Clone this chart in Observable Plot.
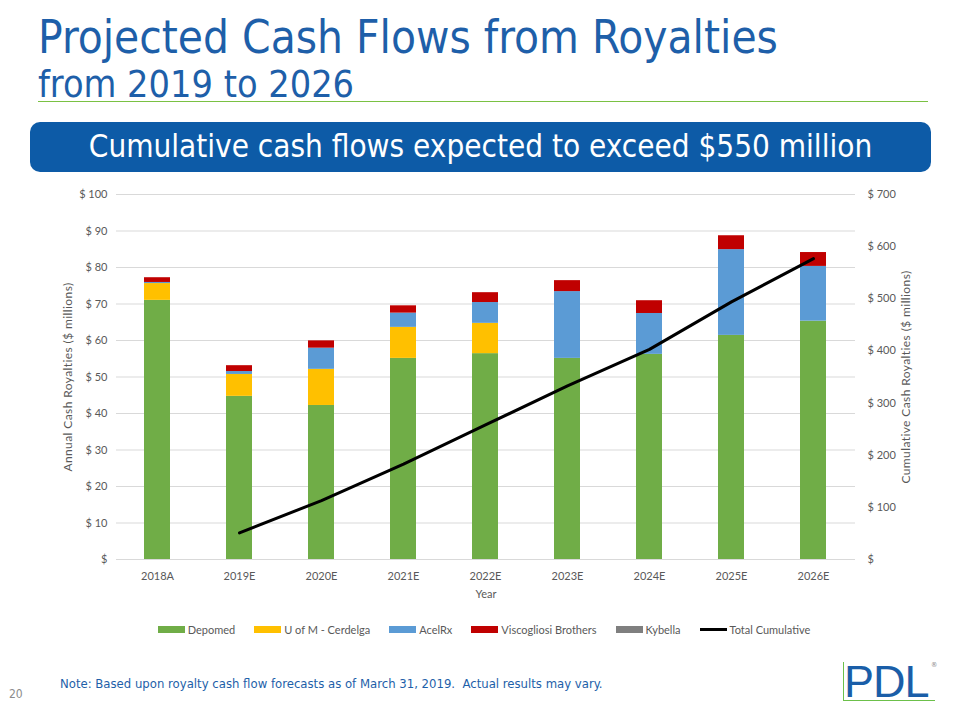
<!DOCTYPE html>
<html><head><meta charset="utf-8">
<script src="https://cdn.jsdelivr.net/npm/d3@7"></script>
<script src="https://cdn.jsdelivr.net/npm/@observablehq/plot@0.6"></script>
<style>
body{margin:0;width:960px;height:720px;position:relative;background:#fff;overflow:hidden;font-family:"Liberation Sans Narrow","Arial Narrow","DejaVu Sans Condensed",sans-serif;}
.abs{position:absolute;white-space:nowrap;line-height:1}
#title{left:38px;top:15px;font-size:45.5px;color:#1e5fa9}
#subtitle{left:38px;top:66px;font-size:37.5px;color:#1e5fa9}
#rule{left:38px;top:101px;width:890px;height:1px;background:#7ac143}
#banner{left:30px;top:122px;width:901px;height:50px;background:#0d5ba7;border-radius:10px;color:#fff;font-size:31.2px;display:flex;align-items:center;justify-content:center}
#chart{left:0;top:180px}
#legend{left:0;top:624px;width:968px;display:flex;justify-content:center;gap:19px;font-family:Lato,sans-serif;font-size:11px;color:#595959}
.item{display:flex;align-items:center;gap:3px}
.sw{width:27px;height:7px;display:inline-block}
.ln{width:27px;height:3px;background:#000;display:inline-block}
#note{left:60px;top:677px;font-size:13px;color:#1e5fa9}
#page{left:9px;top:688px;font-size:12px;color:#8c8c8c}
#pdl{left:844px;top:659px;font-family:"Liberation Sans",Arial,sans-serif;font-size:45px;color:#1a5ea8;letter-spacing:-1px}
#pdlv{left:843px;top:662px;width:1px;height:38px;background:#6cc04a}
#pdlh{left:843px;top:700px;width:92px;height:1px;background:#6cc04a}
#reg{left:931px;top:662px;font-size:7px;color:#888}
</style></head>
<body>
<div class="abs" id="title">Projected Cash Flows from Royalties</div>
<div class="abs" id="subtitle">from 2019 to 2026</div>
<div class="abs" id="rule"></div>
<div class="abs" id="banner">Cumulative cash flows expected to exceed $550 million</div>
<div class="abs" id="chart"></div>
<div class="abs" id="legend"></div>
<div class="abs" id="note">Note: Based upon royalty cash flow forecasts as of March 31, 2019.&nbsp; Actual results may vary.</div>
<div class="abs" id="page">20</div>
<div class="abs" id="pdlv"></div>
<div class="abs" id="pdlh"></div>
<div class="abs" id="pdl">PDL</div>
<div class="abs" id="reg">®</div>
<script>
const years = ["2018A","2019E","2020E","2021E","2022E","2023E","2024E","2025E","2026E"];
const depomed = [71.0, 44.7, 42.2, 55.1, 56.4, 55.1, 56.2, 61.4, 65.3];
const uofm = [4.6, 6.0, 9.9, 8.5, 8.3, 0, 0, 0, 0];
const acelrx = [0.3, 0.8, 5.8, 3.9, 5.7, 18.3, 11.2, 23.5, 15.0];
const visc = [1.3, 1.6, 2.0, 2.0, 2.7, 3.0, 3.5, 3.8, 3.8];
const kybella = [0, 0, 0, 0, 0, 0, 0, 0, 0];
const cumulative = [null, 51, 113, 183, 258, 333, 403, 494, 577];
const seriesNames = ["Depomed","U of M - Cerdelga","AcelRx","Viscogliosi Brothers","Kybella"];
const seriesColors = ["#70ad47","#ffc000","#5b9bd5","#c00000","#7f7f7f"];
const leftTicks = [0,10,20,30,40,50,60,70,80,90,100];
const rightTicks = [0,100,200,300,400,500,600,700];
const rightMax = 700, leftMax = 100;
const leftTitle = "Annual Cash Royalties ($ millions)";
const rightTitle = "Cumulative Cash Royalties ($ millions)";

const seriesValues = [depomed, uofm, acelrx, visc, kybella];
const rows = [];
seriesValues.forEach((vals, s) => vals.forEach((v, i) => rows.push({year: years[i], series: seriesNames[s], value: v})));
const lineRows = years.map((y, i) => ({year: y, cum: cumulative[i]})).filter(d => d.cum != null);
const ratio = leftMax / rightMax;
const money = d => d === 0 ? "$" : "$ " + d;

const plot = Plot.plot({
  width: 960, height: 430,
  marginLeft: 116, marginRight: 105, marginTop: 14, marginBottom: 51,
  style: {fontFamily: "Lato, sans-serif", fontSize: "11px", color: "#595959", background: "transparent"},
  x: {domain: years, paddingInner: 0.68, paddingOuter: 0.34, label: null},
  y: {domain: [0, leftMax], label: null},
  color: {domain: seriesNames, range: seriesColors},
  marks: [
    Plot.gridY(leftTicks, {stroke: "#d9d9d9", strokeOpacity: 1}),
    Plot.barY(rows, {x: "year", y: "value", fill: "series"}),
    Plot.line(lineRows, {x: "year", y: d => d.cum * ratio, stroke: "#000", strokeWidth: 3}),
    Plot.axisX({tickSize: 0, tickPadding: 13, fill: "#595959"}),
    Plot.axisY({ticks: leftTicks, tickSize: 0, tickPadding: 9, tickFormat: money, label: null, fill: "#595959"}),
    Plot.axisY({anchor: "right", ticks: rightTicks.map(d => d * ratio), tickSize: 0, tickPadding: 12, tickFormat: d => money(Math.round(d / ratio)), label: null, fill: "#595959"}),
    Plot.text([leftTitle], {frameAnchor: "left", dx: -48, rotate: -90, textAnchor: "middle", fill: "#595959", fontSize: 12}),
    Plot.text([rightTitle], {frameAnchor: "right", dx: 51, rotate: -90, textAnchor: "middle", fill: "#595959", fontSize: 12}),
    Plot.text(["Year"], {frameAnchor: "bottom", dy: 38, fill: "#595959", fontSize: 11})
  ]
});
d3.select(plot).selectAll("text").filter(function() { const t = this.textContent; return t === leftTitle || t === rightTitle; }).attr("letter-spacing", "0.4px");
document.getElementById("chart").appendChild(plot);

const legend = document.getElementById("legend");
seriesNames.forEach((n, i) => {
  const it = document.createElement("div"); it.className = "item";
  it.innerHTML = `<span class="sw" style="background:${seriesColors[i]}"></span><span>${n}</span>`;
  legend.appendChild(it);
});
const it = document.createElement("div"); it.className = "item";
it.innerHTML = `<span class="ln"></span><span>Total Cumulative</span>`;
legend.appendChild(it);
</script>
</body></html>
